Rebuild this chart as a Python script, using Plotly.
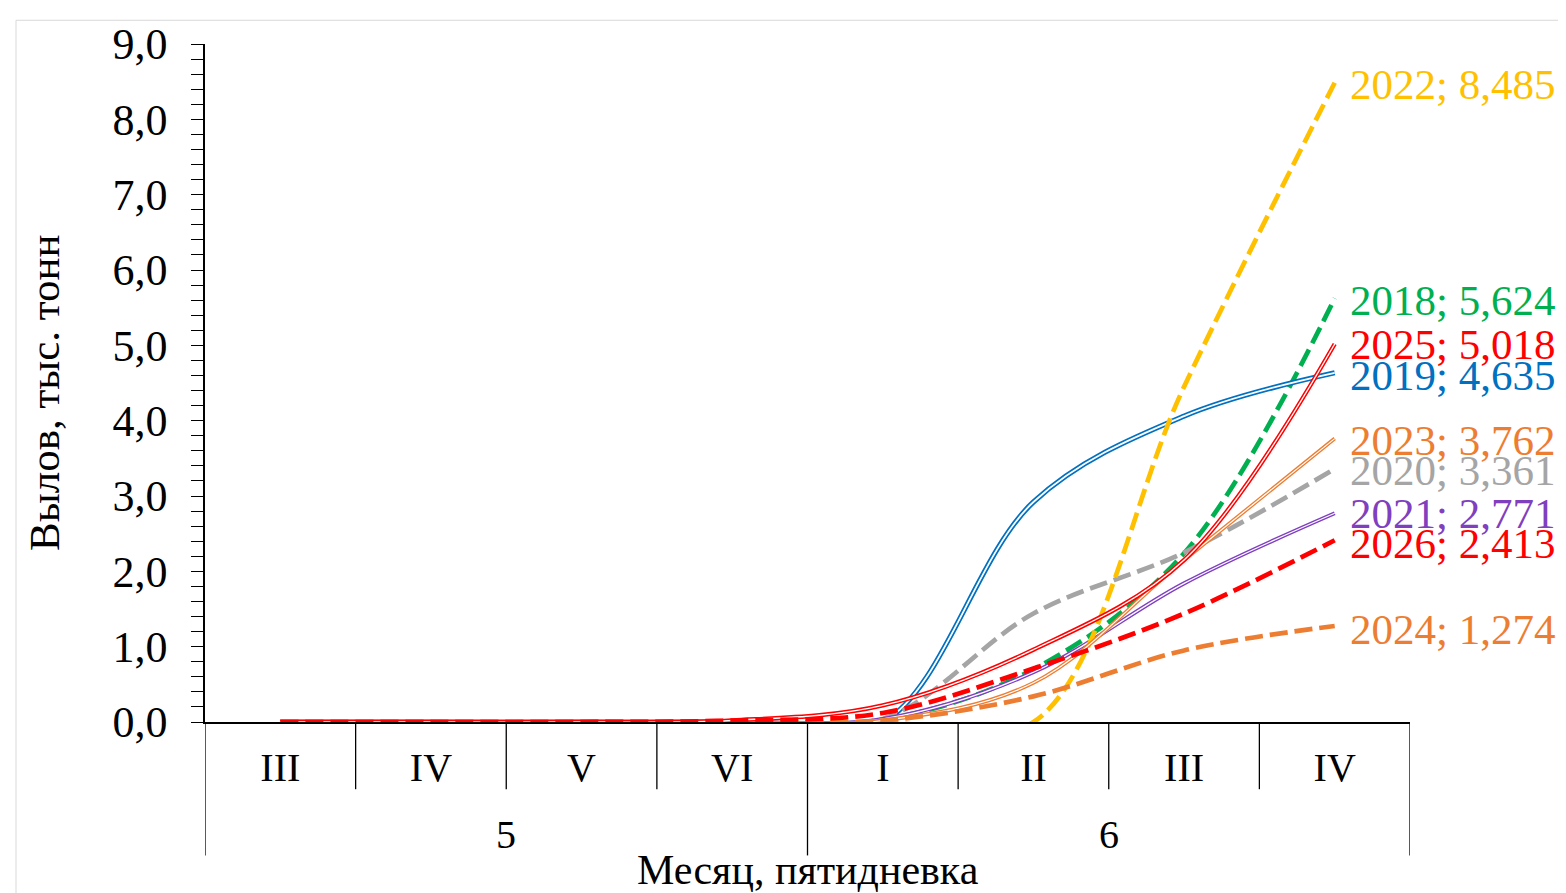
import plotly.graph_objects as go

# ---------------- data ----------------
months = ["5", "5", "5", "5", "6", "6", "6", "6"]
pentads = ["III", "IV", "V", "VI", "I", "II", "III", "IV"]

y2018 = [0, 0, 0, 0, 0.03, 0.70, 2.24, 5.624]
y2019 = [0, 0, 0, 0, 0.0, 2.92, 4.06, 4.635]
y2020 = [0, 0, 0, 0, 0.04, 1.44, 2.25, 3.361]
y2021 = [0, 0, 0, 0, 0.04, 0.66, 1.84, 2.771]
y2022 = [0, 0, 0, 0, 0.0, 0.0, 4.45, 8.485]
y2023 = [0, 0, 0, 0, 0.02, 0.52, 2.15, 3.762]
y2024 = [0, 0, 0, 0, 0.02, 0.34, 0.95, 1.274]
y2025 = [0, 0, 0, 0.02, 0.22, 0.96, 2.15, 5.018]
y2026 = [0, 0, 0, 0.02, 0.12, 0.71, 1.44, 2.413]

series_names = ["2018", "2019", "2020", "2021", "2022", "2023", "2024", "2025", "2026"]
series_values = [y2018, y2019, y2020, y2021, y2022, y2023, y2024, y2025, y2026]

# ---------------- styles ----------------
colors = {"2018": "#00B050", "2019": "#0070C0", "2020": "#A5A5A5", "2021": "#7F3FBF",
          "2022": "#FFC000", "2023": "#ED7D31", "2024": "#ED7D31", "2025": "#FF0000",
          "2026": "#FF0000"}
# (kind, outer width, inner white width)
styles = {"2018": ("dash", 4.7, 0), "2019": ("double", 5.2, 1.8), "2020": ("dash", 4.7, 0),
          "2021": ("double", 4.0, 1.3), "2022": ("dash", 4.7, 0), "2023": ("double", 3.8, 1.2),
          "2024": ("dash", 4.7, 0), "2025": ("double", 4.4, 1.4), "2026": ("dash", 4.7, 0)}
label_shift = {"2022": -2, "2018": -2, "2025": -1, "2019": -3, "2023": -2, "2020": -2,
               "2021": 0, "2026": -3, "2024": -3}

FONT = "Liberation Serif"
x = list(range(len(pentads)))

fig = go.Figure()
for name, vals in zip(series_names, series_values):
    kind, w, wi = styles[name]
    c = colors[name]
    if kind == "dash":
        fig.add_trace(go.Scatter(x=x, y=vals, mode="lines", name=name, hoverinfo="skip",
                                 line=dict(color=c, width=w, dash="18px,7px",
                                           shape="spline", smoothing=1)))
    else:
        fig.add_trace(go.Scatter(x=x, y=vals, mode="lines", name=name, hoverinfo="skip",
                                 line=dict(color=c, width=w, shape="spline", smoothing=1)))
        fig.add_trace(go.Scatter(x=x, y=vals, mode="lines", hoverinfo="skip", showlegend=False,
                                 line=dict(color="white", width=wi, shape="spline", smoothing=1)))

# data labels at the last point
for name, vals in zip(series_names, series_values):
    v = vals[-1]
    fig.add_annotation(x=x[-1], y=v, xref="x", yref="y", xanchor="left", yanchor="middle",
                       xshift=13, yshift=label_shift[name], showarrow=False,
                       text=f"{name}; {str(v).replace('.', ',')}",
                       font=dict(family=FONT, size=43, color=colors[name]))

# plot area geometry (for axis decorations)
plot_h = 686.0
inner_div = -(790 - 722) / plot_h
outer_div = -(857 - 722) / plot_h

shapes = []
for i in range(1, len(pentads)):
    boundary = months[i] != months[i - 1]
    shapes.append(dict(type="line", xref="x", yref="paper", x0=i - 0.5, x1=i - 0.5,
                       y0=0, y1=outer_div if boundary else inner_div,
                       line=dict(color="black", width=1.3)))
for xb in (-0.5, len(pentads) - 0.5):
    shapes.append(dict(type="line", xref="x", yref="paper", x0=xb, x1=xb, y0=0, y1=outer_div,
                       line=dict(color="black", width=1.3)))
# light chart border
shapes.append(dict(type="rect", xref="paper", yref="paper",
                   x0=(16 - 205) / 1205, x1=(1580 - 205) / 1205,
                   y0=(722 - 910) / plot_h, y1=(722 - 12) / plot_h,
                   line=dict(color="#D9D9D9", width=1), layer="below"))

# month group labels
groups = []
for m in months:
    if m not in groups:
        groups.append(m)
for g in groups:
    idx = [i for i, m in enumerate(months) if m == g]
    fig.add_annotation(x=sum(idx) / len(idx), y=-(836 - 722) / plot_h, xref="x", yref="paper",
                       text=g, showarrow=False, yanchor="middle",
                       font=dict(family=FONT, size=40, color="black"))

# axis titles
fig.add_annotation(x=0.5, y=-(872 - 722) / plot_h, xref="paper", yref="paper",
                   text="Месяц, пятидневка", showarrow=False, yanchor="middle",
                   font=dict(family=FONT, size=42, color="black"))
fig.add_annotation(x=(45 - 205) / 1205, y=(722 - 389) / plot_h, xref="paper", yref="paper",
                   text="Вылов, тыс. тонн", showarrow=False, textangle=-90,
                   xanchor="center", yanchor="middle",
                   font=dict(family=FONT, size=43, color="black"))

# page body has an 8px margin: figure is placed at (8, 8) in the window
fig.update_layout(
    width=1558, height=885,
    margin=dict(l=197, r=156, t=28, b=171),
    plot_bgcolor="white", paper_bgcolor="white",
    showlegend=False, separators=", ",
    font=dict(family=FONT, color="black"),
    shapes=shapes,
    xaxis=dict(range=[-0.5, len(pentads) - 0.5], tickvals=x, ticktext=pentads,
               ticks="", showline=True, linecolor="black", linewidth=1.5,
               showgrid=False, zeroline=False, ticklabelstandoff=9,
               tickfont=dict(family=FONT, size=40, color="black")),
    yaxis=dict(range=[0, 9], tick0=0, dtick=1, tickformat=".1f",
               ticks="outside", ticklen=12, tickwidth=1.3, tickcolor="black",
               showline=True, linecolor="black", linewidth=1.5,
               showgrid=False, zeroline=False, ticklabelstandoff=15,
               minor=dict(dtick=0.2, ticks="outside", ticklen=12, tickwidth=1, tickcolor="black"),
               tickfont=dict(family=FONT, size=44, color="black")),
)

fig.write_html("out.html")
